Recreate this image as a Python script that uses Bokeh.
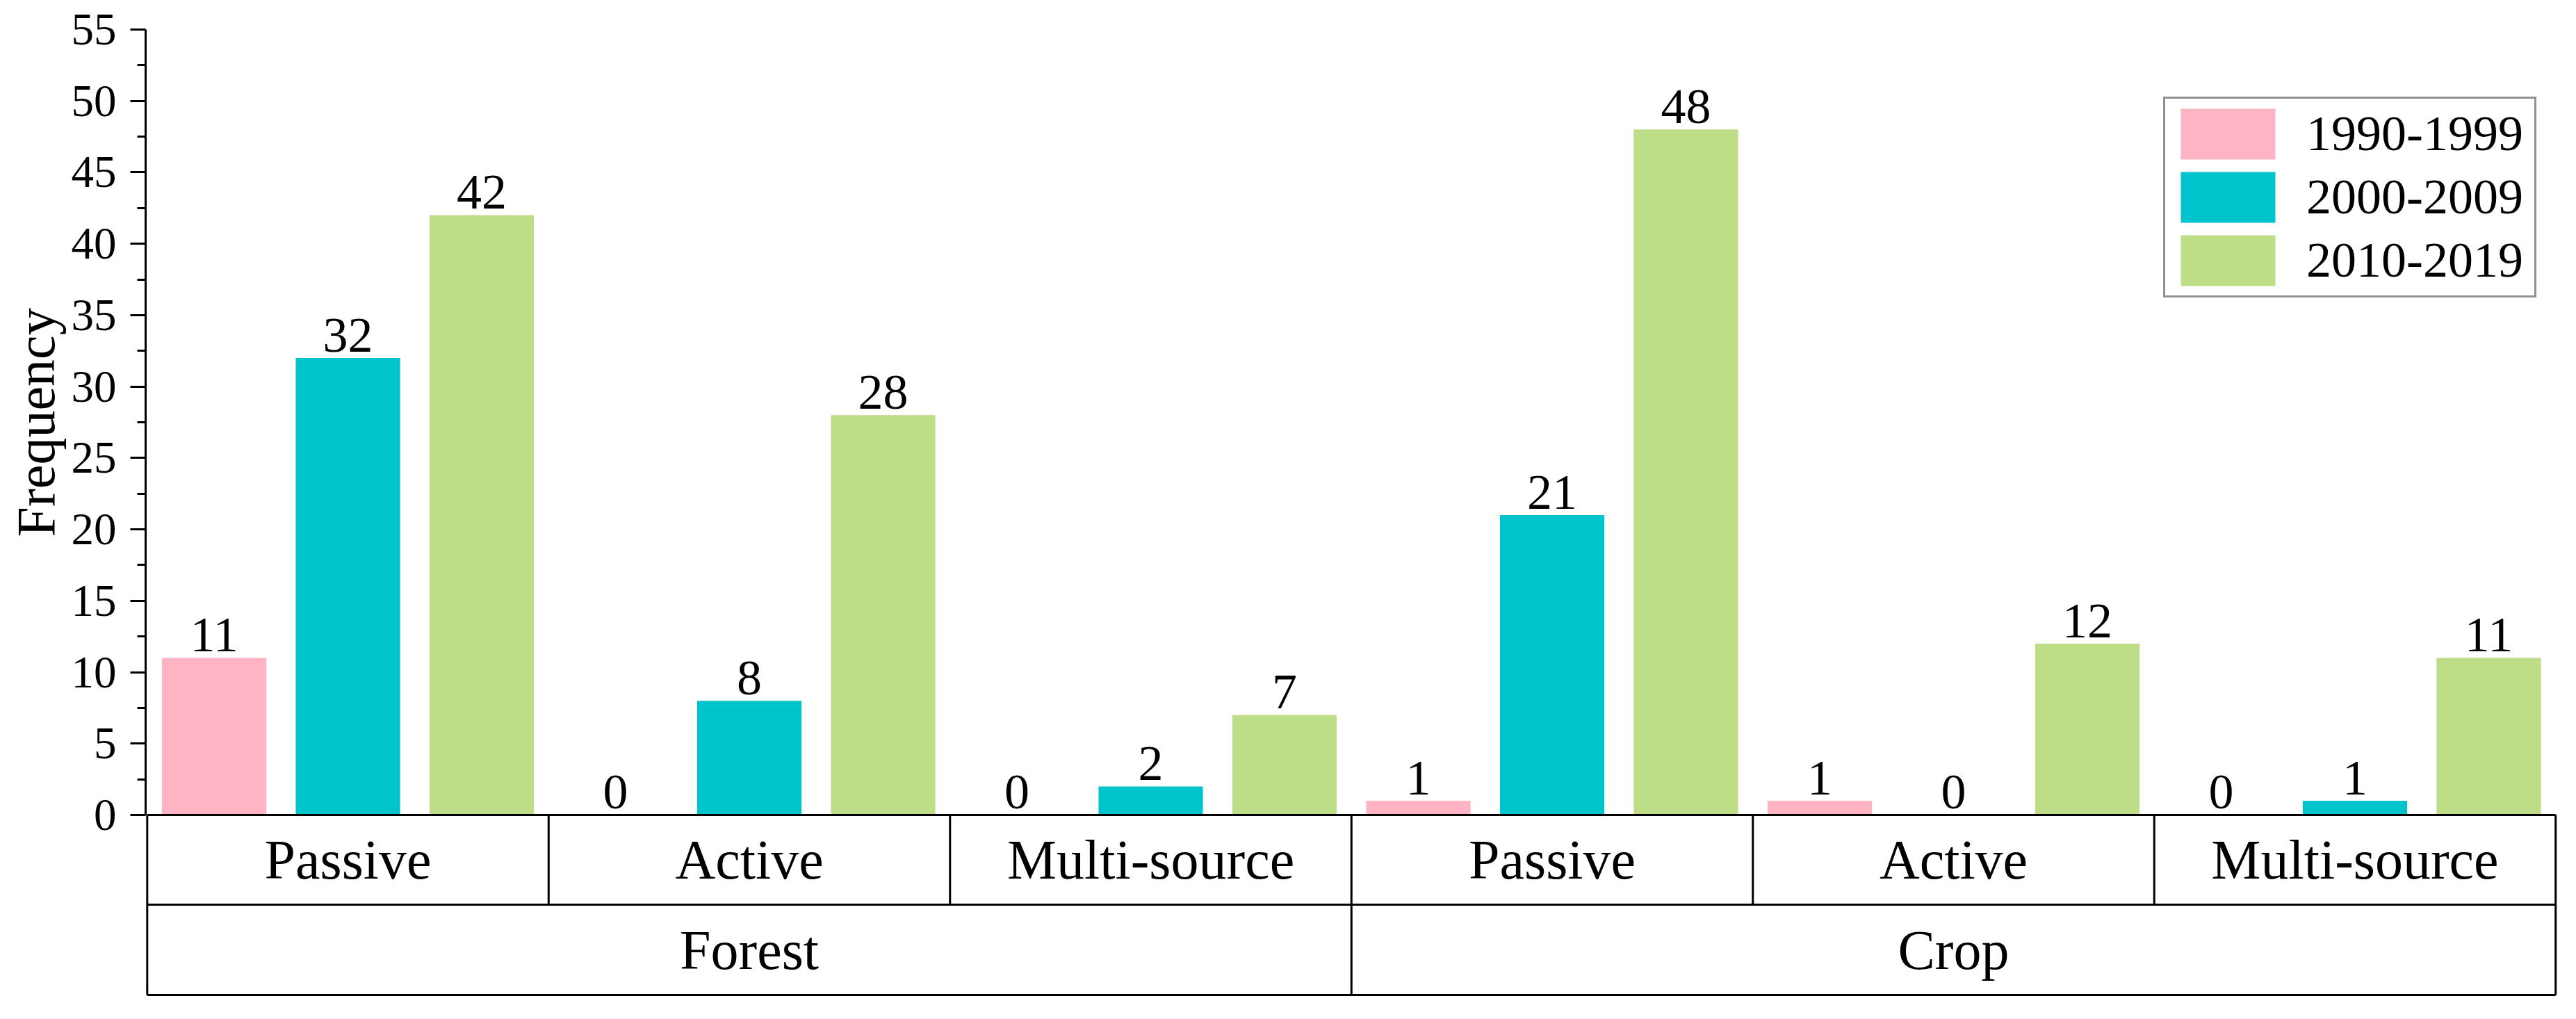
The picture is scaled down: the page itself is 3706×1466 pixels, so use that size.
from bokeh.plotting import figure
from bokeh.models import (Range1d, FixedTicker, ColumnDataSource, Legend, LegendItem, Title)
from bokeh.core.properties import value
from bokeh.embed import file_html
from bokeh.resources import INLINE

# ---- data ----
domains = ["Forest", "Crop"]
sensors = ["Passive", "Active", "Multi-source"]
periods = ["1990-1999", "2000-2009", "2010-2019"]
freq_1990s = [11, 0, 0, 1, 1, 0]
freq_2000s = [32, 8, 2, 21, 0, 1]
freq_2010s = [42, 28, 7, 48, 12, 11]
colors = ["#FFB3C3", "#00C4CC", "#BDDD86"]
y_ticks = list(range(0, 56, 5))

FONT = "Liberation Serif"
n_groups = len(domains) * len(sensors)
n_per = len(periods)
x_end = n_groups * n_per
row1 = -6.28
row2 = -12.6
label_gap = 1.6  # gap between bar top and value label anchor, in y units

p = figure(width=3690, height=1450, x_range=Range1d(-0.012, x_end + 0.03),
           y_range=Range1d(-12.7, 55), x_axis_type=None,
           min_border_left=205, min_border_right=8, min_border_top=42, min_border_bottom=17,
           toolbar_location=None, output_backend="svg")
p.grid.visible = False
p.outline_line_color = None
p.background_fill_color = "white"

# y axis
ax = p.yaxis[0]
ax.ticker = FixedTicker(ticks=y_ticks, minor_ticks=[t + 2.5 for t in y_ticks[:-1]])
ax.bounds = (0, 55)
ax.axis_line_width = 3
ax.axis_line_color = "black"
ax.major_tick_line_width = 3
ax.minor_tick_line_width = 3
ax.major_tick_out = 22
ax.major_tick_in = 0
ax.minor_tick_out = 12
ax.minor_tick_in = 0
ax.major_label_standoff = 20
ax.major_label_text_font = FONT
ax.major_label_text_font_size = "65px"
ax.major_label_text_color = "black"

# y title, aligned to the 0..55 part of the axis
p.add_layout(Title(text="Frequency", align="left", offset=661, standoff=10,
                   text_font=FONT, text_font_size="78px", text_font_style="normal",
                   text_color="black"), "left")

series = [freq_1990s, freq_2000s, freq_2010s]
legend_items = []
for s, vals in enumerate(series):
    xs = [g * n_per + s + 0.5 for g in range(n_groups)]
    src = ColumnDataSource(dict(x=xs, top=vals, ly=[v + label_gap for v in vals],
                                lab=[str(v) for v in vals]))
    r = p.vbar(x="x", top="top", bottom=0, width=0.78, source=src,
               fill_color=colors[s], line_color=None)
    p.text(x="x", y="ly", text="lab", source=src, text_align="center",
           text_baseline="alphabetic", text_font=value(FONT),
           text_font_size="72px", text_color="black")
    legend_items.append(LegendItem(label=periods[s], renderers=[r]))

# category table
p.segment(x0=[0, 0, 0], y0=[0, row1, row2], x1=[x_end] * 3, y1=[0, row1, row2],
          line_color="black", line_width=3)
inner = [g * n_per for g in range(1, n_groups)]
p.segment(x0=inner, y0=[0] * len(inner), x1=inner,
          y1=[row2 if g == n_groups // 2 * n_per else row1 for g in inner],
          line_color="black", line_width=3)
p.segment(x0=[0, x_end], y0=[0, 0], x1=[0, x_end], y1=[row2, row2],
          line_color="black", line_width=3)

sub_labels = [s for d in domains for s in sensors]
p.text(x=[g * n_per + n_per / 2 for g in range(n_groups)], y=[row1 / 2] * n_groups,
       text=sub_labels, text_align="center", text_baseline="middle",
       text_font=value(FONT), text_font_size="80px", text_color="black")
half = x_end / len(domains)
p.text(x=[half * (i + 0.5) for i in range(len(domains))],
       y=[(row1 + row2) / 2] * len(domains), text=domains, text_align="center",
       text_baseline="middle", text_font=value(FONT), text_font_size="80px",
       text_color="black")

legend = Legend(items=legend_items, location=(2903, 1005), orientation="vertical",
                glyph_width=170, glyph_height=91, label_height=91, label_width=323,
                spacing=0, padding=5, margin=0, label_standoff=28,
                label_text_font=FONT, label_text_font_size="72px",
                label_text_baseline="middle", label_text_color="black",
                border_line_color="#222222", border_line_width=3,
                background_fill_color="white", background_fill_alpha=1.0)
p.add_layout(legend, "center")

open("out.html", "w").write(file_html(p, INLINE))
